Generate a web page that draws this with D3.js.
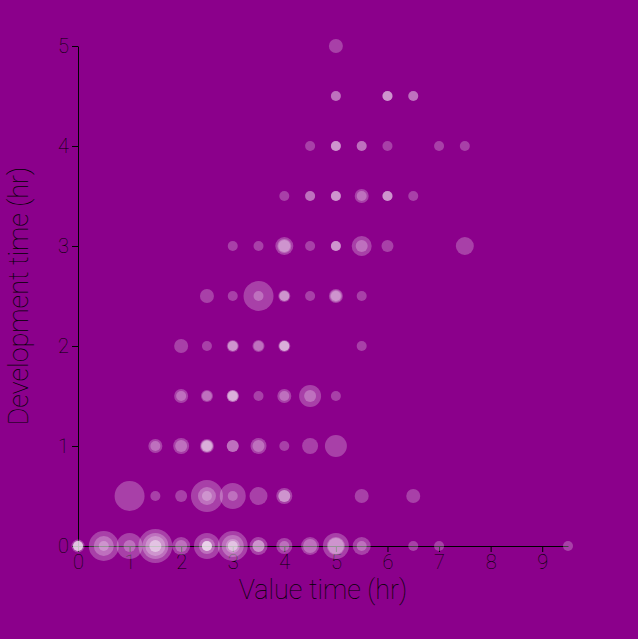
<!DOCTYPE html>
<html>
<head>
<meta charset="utf-8">
<script src="https://cdn.jsdelivr.net/npm/d3@7"></script>
<style>
  html, body { margin: 0; padding: 0; background: #8b008b; }
  svg { display: block; }
  text { font-family: "Roboto", "DejaVu Sans", sans-serif; font-weight: 100; fill: #000; }
  .axis path, .axis line { stroke: #000; }
</style>
</head>
<body>
<svg id="chart" width="638" height="639"></svg>
<script>
// spots on the grid (value time, development time) and the weights of the entries drawn at each spot
var spotValue = [
  0, 0.5, 1, 1.5, 2, 2.5, 3, 3.5, 4, 4.5, 5, 5.5, 6.5, 7, 9.5,
  1, 1.5, 2, 2.5, 3, 3.5, 4, 5.5, 6.5,
  1.5, 2, 2.5, 3, 3.5, 4, 4.5, 5,
  2, 2.5, 3, 3.5, 4, 4.5, 5,
  2, 2.5, 3, 3.5, 4, 5.5,
  2.5, 3, 3.5, 4, 4.5, 5, 5.5,
  3, 3.5, 4, 4.5, 5, 5.5, 6, 7.5,
  4, 4.5, 5, 5.5, 6, 6.5,
  4.5, 5, 5.5, 6, 7, 7.5,
  5, 6, 6.5,
  5
];
var spotDev = [
  0, 0, 0, 0, 0, 0, 0, 0, 0, 0, 0, 0, 0, 0, 0,
  0.5, 0.5, 0.5, 0.5, 0.5, 0.5, 0.5, 0.5, 0.5,
  1, 1, 1, 1, 1, 1, 1, 1,
  1.5, 1.5, 1.5, 1.5, 1.5, 1.5, 1.5,
  2, 2, 2, 2, 2, 2,
  2.5, 2.5, 2.5, 2.5, 2.5, 2.5, 2.5,
  3, 3, 3, 3, 3, 3, 3, 3,
  3.5, 3.5, 3.5, 3.5, 3.5, 3.5,
  4, 4, 4, 4, 4, 4,
  4.5, 4.5, 4.5,
  5
];
var spotWeights = [
  [2.5,1,1,1,1], [11,6,1], [9,2], [13,9,6,2,2], [5,2], [9,4,1,1,1,1], [11,7,3,1,1], [5,2,2], [4,1], [5,3], [9,5,4], [5,1], [1], [1], [1],
  [11], [1], [2], [12,5,1], [9,1], [5], [4,2,2], [3], [3],
  [3,1], [4,2], [3,2,2,1], [2,2], [4,2], [1], [4], [7],
  [3,1], [2,1], [2,2,1,1], [1], [3,1], [7,2], [1],
  [3], [1], [2,1,1], [2,1], [2,1,1,1], [1],
  [3], [1], [11,1], [2,1,1], [1], [3,2,1], [1],
  [1], [1], [5,3,2], [1], [1,1,1], [6,2], [2], [5],
  [1], [1,1], [1,1,1], [3,1], [1,1,1], [1],
  [1], [1,1,1], [1,1], [1], [1], [1],
  [1,1], [1,1,1], [1,1],
  [3]
];
var xTicks = [0, 1, 2, 3, 4, 5, 6, 7, 8, 9];
var yTicks = [0, 1, 2, 3, 4, 5];

// one record per circle
var data = [];
spotValue.forEach(function(v, i){
  spotWeights[i].forEach(function(w){
    data.push({value: v, dev: spotDev[i], weight: w});
  });
});

var svg = d3.select("#chart");
var mLeft = 78, mTop = 46, mRight = 568, mBottom = 546;

var xScale = d3.scaleLinear().domain([0, 9.5]).range([mLeft, mRight]);
var yScale = d3.scaleLinear().domain([0, 5]).range([mBottom, mTop]);
var rScale = d3.scaleLinear().domain([1, 13]).range([5, 17]);

// axes
svg.append("g")
  .attr("class", "axis")
  .attr("transform", "translate(0," + mBottom + ")")
  .call(d3.axisBottom(xScale).tickValues(xTicks).tickSizeOuter(0).tickFormat(d3.format("d")))
  .call(function(g){ g.selectAll("text").attr("font-size", "20px").attr("font-family", null); });

svg.append("g")
  .attr("class", "axis")
  .attr("transform", "translate(" + mLeft + ",0)")
  .call(d3.axisLeft(yScale).tickValues(yTicks).tickSizeOuter(0).tickFormat(d3.format("d")))
  .call(function(g){ g.selectAll("text").attr("font-size", "20px").attr("font-family", null); });

svg.selectAll(".domain").attr("stroke", "#000");
svg.selectAll(".axis text").attr("fill", "#000");

// axis titles
svg.append("text")
  .attr("x", (mLeft + mRight) / 2)
  .attr("y", 599)
  .attr("text-anchor", "middle")
  .attr("font-size", "27px")
  .text("Value time (hr)");

svg.append("text")
  .attr("transform", "translate(28," + (mTop + mBottom) / 2 + ") rotate(-90)")
  .attr("text-anchor", "middle")
  .attr("font-size", "27px")
  .text("Development time (hr)");

// bubbles
svg.append("g").selectAll("circle")
  .data(data)
  .enter().append("circle")
  .attr("cx", function(d){ return xScale(d.value); })
  .attr("cy", function(d){ return yScale(d.dev); })
  .attr("r", function(d){ return rScale(d.weight); })
  .attr("fill", "#fff")
  .attr("fill-opacity", 0.25);
</script>
</body>
</html>
